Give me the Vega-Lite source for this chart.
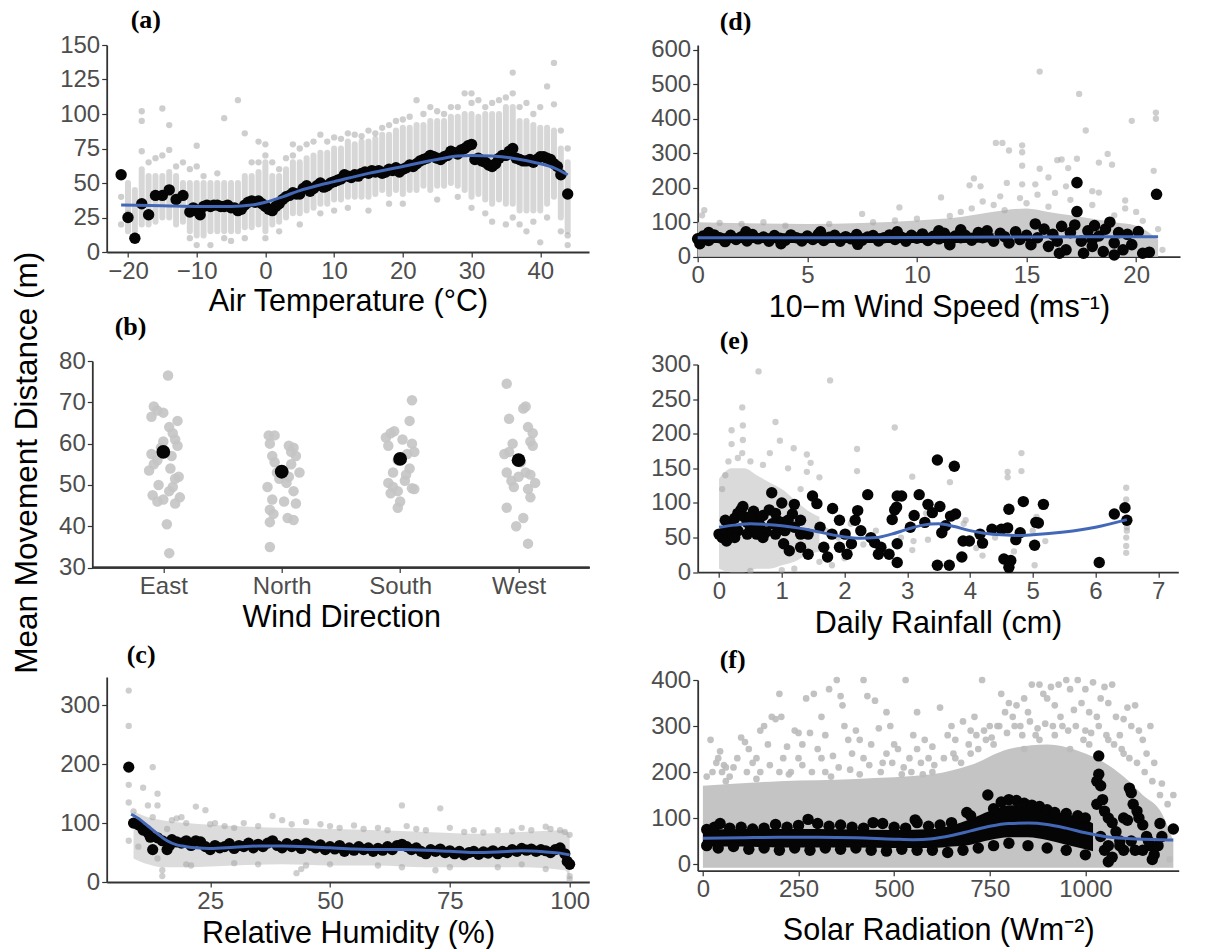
{
 "$schema": "https://vega.github.io/schema/vega-lite/v6.json",
 "autosize": "none",
 "padding": {"left": 106.7, "top": 45, "right": 1117.3, "bottom": 904},
 "background": "white",
 "title": {"text": "Mean Movement Distance (m)", "orient": "left", "anchor": "middle", "frame": "bounds", "font": "Liberation Sans", "fontWeight": "normal", "fontSize": 31.5, "offset": 15, "dx": 15, "color": "#000000"},
 "config": {
  "view": {"stroke": null},
  "font": "Liberation Sans",
  "axis": {"grid": false, "domainColor": "#333333", "domainWidth": 1.8, "tickColor": "#333333", "tickWidth": 1.2, "tickSize": 5, "labelFont": "Liberation Sans", "labelFontSize": 24, "labelColor": "#4d4d4d", "labelPadding": 2, "labelFlush": false, "labelOverlap": false, "titleFont": "Liberation Sans", "titleFontSize": 30.5, "titleFontWeight": "normal", "titleColor": "#000000"},
  "title": {"font": "Liberation Serif", "fontWeight": "bold", "fontSize": 26, "anchor": "start", "frame": "group", "color": "#000000"}
 },
 "datasets": {
  "a_core": [{"x":-20,"y":15,"y2":50},{"x":-19,"y":15,"y2":45},{"x":-18,"y":20,"y2":60},{"x":-17,"y":20,"y2":55},{"x":-16,"y":22,"y2":55},{"x":-15,"y":25,"y2":55},{"x":-14,"y":25,"y2":58},{"x":-13,"y":20,"y2":55},{"x":-12,"y":22,"y2":50},{"x":-11,"y":15,"y2":50},{"x":-10,"y":12,"y2":50},{"x":-9,"y":12,"y2":50},{"x":-8,"y":15,"y2":50},{"x":-7,"y":15,"y2":50},{"x":-6,"y":15,"y2":50},{"x":-5,"y":15,"y2":50},{"x":-4,"y":15,"y2":50},{"x":-3,"y":18,"y2":55},{"x":-2,"y":18,"y2":55},{"x":-1,"y":20,"y2":58},{"x":0,"y":15,"y2":65},{"x":1,"y":20,"y2":55},{"x":2,"y":22,"y2":55},{"x":3,"y":25,"y2":60},{"x":4,"y":28,"y2":65},{"x":5,"y":28,"y2":65},{"x":6,"y":30,"y2":68},{"x":7,"y":32,"y2":70},{"x":8,"y":35,"y2":72},{"x":9,"y":35,"y2":72},{"x":10,"y":38,"y2":75},{"x":11,"y":38,"y2":75},{"x":12,"y":40,"y2":80},{"x":13,"y":40,"y2":78},{"x":14,"y":40,"y2":80},{"x":15,"y":40,"y2":80},{"x":16,"y":42,"y2":82},{"x":17,"y":45,"y2":85},{"x":18,"y":42,"y2":85},{"x":19,"y":45,"y2":88},{"x":20,"y":42,"y2":90},{"x":21,"y":45,"y2":90},{"x":22,"y":45,"y2":92},{"x":23,"y":48,"y2":92},{"x":24,"y":45,"y2":95},{"x":25,"y":48,"y2":95},{"x":26,"y":48,"y2":95},{"x":27,"y":50,"y2":98},{"x":28,"y":48,"y2":98},{"x":29,"y":45,"y2":100},{"x":30,"y":40,"y2":100},{"x":31,"y":42,"y2":98},{"x":32,"y":38,"y2":100},{"x":33,"y":35,"y2":100},{"x":34,"y":38,"y2":100},{"x":35,"y":35,"y2":105},{"x":36,"y":35,"y2":105},{"x":37,"y":30,"y2":95},{"x":38,"y":30,"y2":95},{"x":39,"y":30,"y2":92},{"x":40,"y":30,"y2":90},{"x":41,"y":35,"y2":90},{"x":42,"y":40,"y2":88},{"x":43,"y":25,"y2":75},{"x":44,"y":15,"y2":65}],
  "a_g": [{"x":-21,"y":40},{"x":-21,"y":20},{"x":-20,"y":28},{"x":-19,"y":12},{"x":-18,"y":102},{"x":-18,"y":95},{"x":-18,"y":73},{"x":-17,"y":65},{"x":-16,"y":68},{"x":-15,"y":104},{"x":-15,"y":70},{"x":-14,"y":92},{"x":-14,"y":74},{"x":-13,"y":62},{"x":-12,"y":65},{"x":-11,"y":60},{"x":-11,"y":10},{"x":-10,"y":77},{"x":-10,"y":62},{"x":-10,"y":5},{"x":-9,"y":55},{"x":-7,"y":57},{"x":-6,"y":97},{"x":-6,"y":10},{"x":-4,"y":110},{"x":-3,"y":86},{"x":-2,"y":65},{"x":-1,"y":80},{"x":-1,"y":65},{"x":0,"y":78},{"x":0,"y":70},{"x":0,"y":10},{"x":1,"y":65},{"x":2,"y":60},{"x":3,"y":68},{"x":4,"y":78},{"x":4,"y":70},{"x":5,"y":75},{"x":6,"y":78},{"x":7,"y":80},{"x":8,"y":85},{"x":9,"y":80},{"x":10,"y":83},{"x":11,"y":82},{"x":12,"y":86},{"x":13,"y":85},{"x":14,"y":84},{"x":15,"y":88},{"x":16,"y":86},{"x":17,"y":90},{"x":18,"y":92},{"x":19,"y":95},{"x":20,"y":96},{"x":21,"y":98},{"x":22,"y":110},{"x":23,"y":100},{"x":24,"y":105},{"x":25,"y":102},{"x":26,"y":100},{"x":27,"y":105},{"x":28,"y":105},{"x":29,"y":115},{"x":30,"y":115},{"x":30,"y":108},{"x":31,"y":110},{"x":32,"y":105},{"x":33,"y":108},{"x":34,"y":110},{"x":35,"y":112},{"x":36,"y":130},{"x":36,"y":115},{"x":37,"y":105},{"x":38,"y":108},{"x":39,"y":100},{"x":40,"y":105},{"x":41,"y":120},{"x":42,"y":137},{"x":42,"y":107},{"x":43,"y":88},{"x":44,"y":75},{"x":5,"y":20},{"x":8,"y":28},{"x":10,"y":30},{"x":15,"y":30},{"x":20,"y":35},{"x":25,"y":38},{"x":30,"y":32},{"x":32,"y":28},{"x":33,"y":22},{"x":35,"y":20},{"x":36,"y":25},{"x":37,"y":20},{"x":38,"y":15},{"x":39,"y":22},{"x":40,"y":7},{"x":41,"y":25},{"x":43,"y":15},{"x":44,"y":12},{"x":44,"y":5},{"x":-5,"y":8},{"x":-8,"y":5},{"x":-3,"y":10},{"x":2,"y":15},{"x":12,"y":32},{"x":18,"y":35},{"x":28,"y":40}],
  "a_b": [{"x":-21,"y":56},{"x":-20,"y":25},{"x":-19,"y":10},{"x":-18,"y":35},{"x":-17,"y":27},{"x":-16,"y":41},{"x":-15,"y":41},{"x":-14,"y":45},{"x":-13,"y":38},{"x":-12,"y":41},{"x":-11,"y":29},{"x":-10.5,"y":32},{"x":-10,"y":30},{"x":-9.5,"y":27},{"x":-9,"y":33},{"x":-8.5,"y":34},{"x":-8,"y":33},{"x":-7.5,"y":34},{"x":-7,"y":34},{"x":-6.5,"y":33},{"x":-6,"y":33},{"x":-5.5,"y":34},{"x":-5,"y":32},{"x":-4.5,"y":32},{"x":-4,"y":30},{"x":-3.5,"y":31},{"x":-3,"y":34},{"x":-2.5,"y":36},{"x":-2,"y":37},{"x":-1.5,"y":36},{"x":-1,"y":37},{"x":-0.5,"y":35},{"x":0,"y":33},{"x":0.5,"y":31},{"x":1,"y":30},{"x":1.5,"y":33},{"x":2,"y":35},{"x":2.5,"y":38},{"x":3,"y":40},{"x":3.5,"y":41},{"x":4,"y":43},{"x":4.5,"y":42},{"x":5,"y":42},{"x":5.5,"y":46},{"x":6,"y":48},{"x":6.5,"y":44},{"x":7,"y":46},{"x":7.5,"y":48},{"x":8,"y":50},{"x":8.5,"y":47},{"x":9,"y":48},{"x":9.5,"y":50},{"x":10,"y":51},{"x":10.5,"y":52},{"x":11,"y":53},{"x":11.5,"y":56},{"x":12,"y":55},{"x":12.5,"y":54},{"x":13,"y":56},{"x":13.5,"y":55},{"x":14,"y":57},{"x":14.5,"y":58},{"x":15,"y":57},{"x":15.5,"y":59},{"x":16,"y":58},{"x":16.5,"y":59},{"x":17,"y":57},{"x":17.5,"y":58},{"x":18,"y":60},{"x":18.5,"y":59},{"x":19,"y":61},{"x":19.5,"y":58},{"x":20,"y":60},{"x":20.5,"y":61},{"x":21,"y":63},{"x":21.5,"y":62},{"x":22,"y":64},{"x":22.5,"y":66},{"x":23,"y":67},{"x":23.5,"y":68},{"x":24,"y":70},{"x":24.5,"y":69},{"x":25,"y":68},{"x":25.5,"y":67},{"x":26,"y":69},{"x":26.5,"y":70},{"x":27,"y":73},{"x":27.5,"y":72},{"x":28,"y":71},{"x":28.5,"y":74},{"x":29,"y":75},{"x":29.5,"y":77},{"x":30,"y":78},{"x":30.5,"y":67},{"x":31,"y":68},{"x":31.5,"y":66},{"x":32,"y":65},{"x":32.5,"y":63},{"x":33,"y":62},{"x":33.5,"y":64},{"x":34,"y":68},{"x":34.5,"y":70},{"x":35,"y":70},{"x":35.5,"y":73},{"x":36,"y":75},{"x":36.5,"y":68},{"x":37,"y":67},{"x":37.5,"y":66},{"x":38,"y":66},{"x":38.5,"y":67},{"x":39,"y":65},{"x":39.5,"y":67},{"x":40,"y":69},{"x":40.5,"y":69},{"x":41,"y":68},{"x":41.5,"y":67},{"x":42,"y":64},{"x":42.5,"y":62},{"x":43,"y":56},{"x":44,"y":42}],
  "a_l": [{"x":-21,"y":34},{"x":-15,"y":33.5},{"x":-10,"y":33},{"x":-5,"y":33},{"x":-2,"y":34},{"x":0,"y":36},{"x":2.5,"y":40},{"x":5,"y":44.5},{"x":7.5,"y":48},{"x":10,"y":51},{"x":15,"y":57},{"x":20,"y":62},{"x":25,"y":67},{"x":28,"y":69.5},{"x":30,"y":70},{"x":33,"y":69.5},{"x":36,"y":68},{"x":40,"y":64},{"x":42,"y":61},{"x":44,"y":56}],
  "b_g": [{"x":1.04,"y":76.5},{"x":0.92,"y":69},{"x":0.95,"y":68},{"x":1.0,"y":67.5},{"x":0.9,"y":66.5},{"x":1.12,"y":65.5},{"x":1.05,"y":64},{"x":1.08,"y":62.5},{"x":1.0,"y":60.5},{"x":1.1,"y":61},{"x":1.12,"y":59.5},{"x":0.9,"y":57.5},{"x":0.95,"y":56},{"x":0.88,"y":53.5},{"x":1.06,"y":54},{"x":0.92,"y":55},{"x":1.13,"y":52},{"x":0.96,"y":50},{"x":1.08,"y":49.5},{"x":0.91,"y":47.5},{"x":1.0,"y":46.5},{"x":1.1,"y":45.5},{"x":0.95,"y":46},{"x":1.14,"y":47},{"x":1.05,"y":48.5},{"x":1.03,"y":40.5},{"x":1.05,"y":33.5},{"x":1.1,"y":51.5},{"x":0.98,"y":59},{"x":1.07,"y":57},
   {"x":1.89,"y":62},{"x":1.94,"y":62},{"x":1.9,"y":60},{"x":2.06,"y":59.5},{"x":2.1,"y":59},{"x":2.12,"y":57},{"x":1.92,"y":57},{"x":1.94,"y":55.5},{"x":2.08,"y":55},{"x":2.15,"y":53},{"x":1.96,"y":53},{"x":2.04,"y":50.5},{"x":1.88,"y":49.5},{"x":2.1,"y":48.5},{"x":1.92,"y":46.5},{"x":2.02,"y":46},{"x":2.12,"y":45.5},{"x":1.9,"y":44},{"x":1.93,"y":43},{"x":1.9,"y":41},{"x":2.05,"y":42},{"x":2.1,"y":41.5},{"x":1.9,"y":35},{"x":2.06,"y":52},{"x":1.98,"y":51.5},{"x":2.08,"y":58},
   {"x":3.1,"y":70.5},{"x":3.08,"y":65.5},{"x":2.88,"y":61.5},{"x":2.92,"y":62.5},{"x":2.95,"y":63},{"x":3.02,"y":61},{"x":3.1,"y":60},{"x":3.12,"y":58},{"x":2.9,"y":59.5},{"x":3.06,"y":57.5},{"x":2.98,"y":56},{"x":3.08,"y":54},{"x":2.94,"y":53},{"x":3.05,"y":52.5},{"x":2.9,"y":50.5},{"x":2.94,"y":49.5},{"x":3.12,"y":49},{"x":2.98,"y":48.5},{"x":2.92,"y":48},{"x":3.0,"y":46},{"x":2.98,"y":44.5},{"x":3.1,"y":49.2},{"x":3.04,"y":51},
   {"x":3.9,"y":74.5},{"x":4.06,"y":69},{"x":4.04,"y":68.5},{"x":3.92,"y":66},{"x":4.08,"y":64},{"x":4.12,"y":62.5},{"x":4.1,"y":60.5},{"x":4.12,"y":59.5},{"x":3.95,"y":60},{"x":3.92,"y":58},{"x":3.88,"y":57.5},{"x":4.02,"y":55.5},{"x":3.9,"y":53},{"x":4.06,"y":53},{"x":4.1,"y":52.5},{"x":4.14,"y":50.5},{"x":3.96,"y":49.5},{"x":4.08,"y":49},{"x":4.1,"y":47},{"x":3.94,"y":51},{"x":3.9,"y":44.5},{"x":4.04,"y":42},{"x":3.98,"y":40},{"x":4.08,"y":35.8},{"x":4.0,"y":52}],
  "b_b": [{"x":1,"y":58},{"x":2,"y":53.2},{"x":3,"y":56.3},{"x":4,"y":56}],
  "c_band": [{"x":9,"y":40,"y2":120},{"x":12,"y":30,"y2":110},{"x":15,"y":25,"y2":105},{"x":20,"y":25,"y2":100},{"x":30,"y":28,"y2":95},{"x":40,"y":30,"y2":92},{"x":50,"y":28,"y2":90},{"x":60,"y":28,"y2":88},{"x":70,"y":25,"y2":85},{"x":80,"y":25,"y2":82},{"x":90,"y":25,"y2":85},{"x":99,"y":20,"y2":88},{"x":100,"y":5,"y2":80}],
  "c_g": [{"x":8,"y":325},{"x":8,"y":265},{"x":8,"y":165},{"x":8,"y":135},{"x":8,"y":70},{"x":9,"y":120},{"x":10,"y":105},{"x":10,"y":60},{"x":11,"y":160},{"x":12,"y":130},{"x":13,"y":195},{"x":13,"y":110},{"x":14,"y":150},{"x":14,"y":130},{"x":14,"y":40},{"x":15,"y":10},{"x":15,"y":20},{"x":16,"y":90},{"x":17,"y":105},{"x":18,"y":108},{"x":19,"y":110},{"x":20,"y":100},{"x":21,"y":28},{"x":22,"y":128},{"x":24,"y":122},{"x":25,"y":98},{"x":26,"y":100},{"x":28,"y":95},{"x":30,"y":92},{"x":32,"y":100},{"x":35,"y":95},{"x":38,"y":112},{"x":40,"y":105},{"x":42,"y":98},{"x":43,"y":15},{"x":44,"y":22},{"x":45,"y":102},{"x":48,"y":98},{"x":50,"y":95},{"x":52,"y":92},{"x":55,"y":96},{"x":57,"y":90},{"x":60,"y":92},{"x":62,"y":88},{"x":65,"y":130},{"x":66,"y":95},{"x":68,"y":90},{"x":70,"y":88},{"x":72,"y":20},{"x":73,"y":125},{"x":75,"y":92},{"x":78,"y":85},{"x":80,"y":88},{"x":82,"y":84},{"x":85,"y":88},{"x":88,"y":86},{"x":90,"y":92},{"x":92,"y":88},{"x":95,"y":94},{"x":96,"y":90},{"x":98,"y":88},{"x":99,"y":85},{"x":100,"y":80},{"x":100,"y":10},{"x":100,"y":5},{"x":35,"y":30},{"x":50,"y":30},{"x":60,"y":28},{"x":75,"y":25},{"x":85,"y":25},{"x":95,"y":22},{"x":20,"y":30},{"x":30,"y":32},{"x":45,"y":28},{"x":65,"y":25},{"x":90,"y":30}],
  "c_b": [{"x":8,"y":195},{"x":9,"y":100},{"x":10,"y":97},{"x":11,"y":88},{"x":12,"y":84},{"x":12.5,"y":76},{"x":13,"y":55},{"x":14,"y":75},{"x":15,"y":70},{"x":16,"y":55},{"x":16.5,"y":62},{"x":17,"y":72},{"x":18,"y":68},{"x":19,"y":66},{"x":20,"y":70},{"x":21,"y":62},{"x":22,"y":70},{"x":23,"y":68},{"x":24,"y":60},{"x":25,"y":55},{"x":26,"y":62},{"x":27,"y":58},{"x":28,"y":60},{"x":29,"y":65},{"x":30,"y":57},{"x":31,"y":62},{"x":32,"y":60},{"x":33,"y":66},{"x":34,"y":58},{"x":35,"y":64},{"x":36,"y":60},{"x":37,"y":66},{"x":38,"y":70},{"x":39,"y":62},{"x":40,"y":58},{"x":41,"y":65},{"x":42,"y":60},{"x":43,"y":64},{"x":44,"y":57},{"x":45,"y":66},{"x":46,"y":62},{"x":47,"y":58},{"x":48,"y":63},{"x":49,"y":55},{"x":50,"y":60},{"x":51,"y":56},{"x":52,"y":62},{"x":53,"y":52},{"x":54,"y":58},{"x":55,"y":54},{"x":56,"y":60},{"x":57,"y":55},{"x":58,"y":58},{"x":59,"y":52},{"x":60,"y":57},{"x":61,"y":54},{"x":62,"y":60},{"x":63,"y":55},{"x":64,"y":62},{"x":65,"y":64},{"x":66,"y":60},{"x":67,"y":55},{"x":68,"y":58},{"x":69,"y":52},{"x":70,"y":48},{"x":71,"y":55},{"x":72,"y":52},{"x":73,"y":56},{"x":74,"y":50},{"x":75,"y":53},{"x":76,"y":48},{"x":77,"y":52},{"x":78,"y":46},{"x":79,"y":50},{"x":80,"y":52},{"x":81,"y":47},{"x":82,"y":51},{"x":83,"y":49},{"x":84,"y":53},{"x":85,"y":48},{"x":86,"y":52},{"x":87,"y":50},{"x":88,"y":55},{"x":89,"y":52},{"x":90,"y":57},{"x":91,"y":54},{"x":92,"y":56},{"x":93,"y":52},{"x":94,"y":55},{"x":95,"y":53},{"x":96,"y":50},{"x":97,"y":55},{"x":98,"y":58},{"x":99,"y":48},{"x":99.5,"y":35},{"x":100,"y":30}],
  "c_l": [{"x":8.5,"y":115},{"x":10,"y":108},{"x":12,"y":95},{"x":14,"y":82},{"x":16,"y":70},{"x":18,"y":63},{"x":20,"y":60},{"x":22,"y":58},{"x":25,"y":57},{"x":30,"y":59},{"x":35,"y":61},{"x":40,"y":61},{"x":45,"y":60},{"x":50,"y":58},{"x":55,"y":56},{"x":60,"y":55},{"x":65,"y":55},{"x":70,"y":54},{"x":75,"y":52},{"x":80,"y":50},{"x":85,"y":51},{"x":90,"y":53},{"x":95,"y":51},{"x":98,"y":49},{"x":100,"y":46}],
  "d_band": [{"x":0,"y":0,"y2":100},{"x":5,"y":0,"y2":95},{"x":10,"y":0,"y2":105},{"x":12,"y":0,"y2":115},{"x":13,"y":0,"y2":125},{"x":14,"y":0,"y2":135},{"x":15,"y":0,"y2":140},{"x":16,"y":0,"y2":130},{"x":17,"y":0,"y2":120},{"x":18,"y":0,"y2":110},{"x":19,"y":0,"y2":100},{"x":20,"y":0,"y2":90},{"x":21,"y":0,"y2":50}],
  "d_bband": [{"x":0,"y":40,"y2":68},{"x":4,"y":40,"y2":68},{"x":8,"y":40,"y2":68},{"x":12,"y":40,"y2":70},{"x":13.5,"y":42,"y2":68}],
  "d_g": [{"x":15.6,"y":537},{"x":17.4,"y":472},{"x":20.9,"y":418},{"x":20.9,"y":400},{"x":19.8,"y":394},{"x":17.7,"y":366},{"x":13.6,"y":330},{"x":13.9,"y":330},{"x":14.8,"y":323},{"x":14.2,"y":308},{"x":14.8,"y":303},{"x":14.8,"y":264},{"x":15.6,"y":255},{"x":16.4,"y":280},{"x":16.6,"y":282},{"x":17.3,"y":284},{"x":18.7,"y":298},{"x":18.9,"y":267},{"x":18.3,"y":273},{"x":16.9,"y":257},{"x":20.8,"y":249},{"x":12.6,"y":227},{"x":12.4,"y":207},{"x":12.9,"y":204},{"x":14.1,"y":214},{"x":14.8,"y":210},{"x":15.4,"y":210},{"x":16.0,"y":230},{"x":16.8,"y":204},{"x":18.0,"y":190},{"x":18.3,"y":186},{"x":11.1,"y":172},{"x":9.2,"y":143},{"x":7.5,"y":124},{"x":19.5,"y":163},{"x":19.5,"y":140},{"x":20.3,"y":104},{"x":13.8,"y":175},{"x":14.7,"y":170},{"x":16.3,"y":185},{"x":12.0,"y":130},{"x":12.5,"y":140},{"x":13.0,"y":160},{"x":13.5,"y":150},{"x":14,"y":135},{"x":15,"y":155},{"x":15.5,"y":180},{"x":16,"y":145},{"x":17,"y":165},{"x":18,"y":150},{"x":19,"y":120},{"x":20,"y":130},{"x":0.3,"y":135},{"x":0.2,"y":120},{"x":3,"y":100},{"x":2,"y":95},{"x":4,"y":90},{"x":8,"y":100},{"x":1,"y":98},{"x":6,"y":95},{"x":10,"y":110},{"x":11.5,"y":118},{"x":9,"y":105},{"x":21,"y":80},{"x":21.2,"y":20}],
  "d_b": [{"x":0,"y":52},{"x":0.25,"y":60},{"x":0.5,"y":47},{"x":0.75,"y":63},{"x":1,"y":55},{"x":1.25,"y":44},{"x":1.5,"y":62},{"x":1.75,"y":50},{"x":2,"y":58},{"x":2.25,"y":46},{"x":2.5,"y":64},{"x":2.75,"y":52},{"x":3,"y":57},{"x":3.25,"y":45},{"x":3.5,"y":61},{"x":3.75,"y":53},{"x":4,"y":48},{"x":4.25,"y":63},{"x":4.5,"y":55},{"x":4.75,"y":46},{"x":5,"y":60},{"x":5.25,"y":50},{"x":5.5,"y":65},{"x":5.75,"y":47},{"x":6,"y":56},{"x":6.25,"y":62},{"x":6.5,"y":45},{"x":6.75,"y":58},{"x":7,"y":52},{"x":7.25,"y":64},{"x":7.5,"y":48},{"x":7.75,"y":57},{"x":8,"y":61},{"x":8.25,"y":46},{"x":8.5,"y":55},{"x":8.75,"y":63},{"x":9,"y":50},{"x":9.25,"y":58},{"x":9.5,"y":45},{"x":9.75,"y":62},{"x":10,"y":54},{"x":10.25,"y":66},{"x":10.5,"y":47},{"x":10.75,"y":59},{"x":11,"y":52},{"x":11.25,"y":68},{"x":11.5,"y":44},{"x":11.75,"y":60},{"x":12,"y":55},{"x":0.1,"y":38},{"x":0.5,"y":70},{"x":2.2,"y":72},{"x":3.8,"y":38},{"x":5.6,"y":72},{"x":7.3,"y":36},{"x":9.1,"y":72},{"x":11,"y":75},{"x":11.5,"y":35},{"x":12,"y":78},{"x":12.2,"y":62},{"x":12.5,"y":48},{"x":12.8,"y":70},{"x":13.0,"y":55},{"x":13.2,"y":75},{"x":13.5,"y":45},{"x":13.8,"y":68},{"x":14.0,"y":58},{"x":14.2,"y":40},{"x":14.5,"y":72},{"x":14.7,"y":50},{"x":15.0,"y":62},{"x":15.2,"y":35},{"x":15.4,"y":95},{"x":15.5,"y":55},{"x":15.8,"y":80},{"x":16.0,"y":30},{"x":16.2,"y":65},{"x":16.4,"y":45},{"x":16.6,"y":88},{"x":16.8,"y":20},{"x":17.0,"y":70},{"x":17.2,"y":92},{"x":17.3,"y":131},{"x":17.3,"y":215},{"x":17.5,"y":45},{"x":17.6,"y":10},{"x":17.8,"y":75},{"x":18.0,"y":30},{"x":18.1,"y":90},{"x":18.3,"y":60},{"x":18.5,"y":15},{"x":18.6,"y":80},{"x":18.8,"y":100},{"x":19.0,"y":40},{"x":19.2,"y":70},{"x":19.4,"y":20},{"x":19.6,"y":65},{"x":19.8,"y":35},{"x":20.1,"y":73},{"x":20.3,"y":10},{"x":20.6,"y":13},{"x":20.93,"y":181},{"x":19.0,"y":5},{"x":18.0,"y":50},{"x":16.5,"y":10}],
  "d_l": [{"x":0,"y":55},{"x":5,"y":55},{"x":10,"y":56},{"x":15,"y":57},{"x":21,"y":58}],
  "e_band": [{"x":0,"y":5,"y2":135},{"x":0.2,"y":0,"y2":150},{"x":0.4,"y":0,"y2":150},{"x":0.6,"y":5,"y2":140},{"x":0.8,"y":5,"y2":130},{"x":1.0,"y":10,"y2":120},{"x":1.2,"y":15,"y2":105},{"x":1.4,"y":25,"y2":90},{"x":1.6,"y":30,"y2":80}],
  "e_g": [{"x":0.63,"y":290},{"x":1.77,"y":277},{"x":0.37,"y":238},{"x":0.2,"y":205},{"x":0.9,"y":217},{"x":0.38,"y":212},{"x":0.38,"y":191},{"x":0.97,"y":190},{"x":0.2,"y":185},{"x":0.37,"y":172},{"x":0.81,"y":172},{"x":1.19,"y":179},{"x":1.4,"y":170},{"x":1.46,"y":158},{"x":2.8,"y":209},{"x":2.2,"y":178},{"x":2.2,"y":146},{"x":3.08,"y":138},{"x":3.68,"y":130},{"x":4.82,"y":172},{"x":4.82,"y":146},{"x":4.6,"y":145},{"x":4.6,"y":137},{"x":6.49,"y":122},{"x":6.49,"y":105},{"x":6.49,"y":50},{"x":6.49,"y":38},{"x":6.49,"y":28},{"x":5.03,"y":10},{"x":5.06,"y":80},{"x":3.08,"y":32},{"x":3.33,"y":47},{"x":4.2,"y":24},{"x":3.93,"y":75},{"x":1.4,"y":145},{"x":1.6,"y":137},{"x":0.15,"y":160},{"x":0.5,"y":160},{"x":0.7,"y":155},{"x":1.1,"y":150},{"x":0.3,"y":165},{"x":0.1,"y":140},{"x":0.05,"y":120},{"x":1.3,"y":120},{"x":1.5,"y":110},{"x":1.7,"y":60},{"x":1.9,"y":50},{"x":2.1,"y":70},{"x":2.3,"y":40},{"x":2.5,"y":60},{"x":2.6,"y":30},{"x":2.9,"y":50},{"x":3.1,"y":45},{"x":3.3,"y":85},{"x":3.6,"y":60},{"x":3.9,"y":70},{"x":4.1,"y":35},{"x":4.4,"y":50},{"x":4.7,"y":30},{"x":5.0,"y":60},{"x":5.2,"y":45},{"x":6.5,"y":60},{"x":6.5,"y":65},{"x":1.2,"y":5},{"x":1.0,"y":3},{"x":0.5,"y":2},{"x":1.6,"y":15},{"x":1.8,"y":10},{"x":2.0,"y":20}],
  "e_b": [{"x":0.84,"y":114.7},{"x":1.0,"y":100},{"x":1.2,"y":98},{"x":1.49,"y":110},{"x":1.56,"y":99},{"x":1.81,"y":92},{"x":2.37,"y":112},{"x":2.21,"y":89},{"x":2.84,"y":110},{"x":2.91,"y":110},{"x":2.83,"y":94},{"x":3.19,"y":112},{"x":3.33,"y":98},{"x":3.48,"y":162},{"x":3.75,"y":153},{"x":3.52,"y":95},{"x":3.77,"y":84},{"x":4.62,"y":91},{"x":4.85,"y":102},{"x":5.17,"y":98},{"x":5.09,"y":71},{"x":5.03,"y":39},{"x":6.3,"y":84},{"x":6.47,"y":93},{"x":6.5,"y":75},{"x":6.06,"y":14},{"x":3.87,"y":22},{"x":4.2,"y":42},{"x":3.89,"y":45},{"x":3.99,"y":45},{"x":4.54,"y":19},{"x":4.65,"y":17},{"x":4.62,"y":7},{"x":3.48,"y":10},{"x":3.67,"y":10},{"x":2.84,"y":14},{"x":2.71,"y":26},{"x":2.84,"y":41},{"x":2.76,"y":76},{"x":2.8,"y":90},{"x":3.05,"y":65},{"x":3.11,"y":82},{"x":3.28,"y":72},{"x":3.4,"y":86},{"x":3.55,"y":57},{"x":3.61,"y":67},{"x":3.69,"y":81},{"x":4.16,"y":55},{"x":4.35,"y":62},{"x":4.5,"y":62},{"x":4.6,"y":64},{"x":4.8,"y":57},{"x":4.73,"y":47},{"x":5.05,"y":72},{"x":2.04,"y":26},{"x":1.92,"y":36},{"x":1.73,"y":22},{"x":1.67,"y":36},{"x":1.42,"y":26},{"x":1.3,"y":36},{"x":1.12,"y":31},{"x":1.03,"y":41},{"x":1.92,"y":75},{"x":2.01,"y":55},{"x":2.17,"y":75},{"x":2.26,"y":60},{"x":2.42,"y":50},{"x":2.48,"y":43},{"x":2.58,"y":36},{"x":2.54,"y":26},{"x":2.11,"y":41},{"x":1.8,"y":55},{"x":1.61,"y":65},{"x":1.42,"y":55},{"x":1.3,"y":75},{"x":1.17,"y":84},{"x":0.92,"y":75},{"x":0,"y":55},{"x":0.05,"y":50},{"x":0.1,"y":60},{"x":0.12,"y":45},{"x":0.15,"y":70},{"x":0.2,"y":65},{"x":0.25,"y":78},{"x":0.3,"y":85},{"x":0.35,"y":90},{"x":0.38,"y":95},{"x":0.4,"y":80},{"x":0.45,"y":72},{"x":0.5,"y":62},{"x":0.55,"y":88},{"x":0.6,"y":75},{"x":0.65,"y":68},{"x":0.7,"y":82},{"x":0.75,"y":58},{"x":0.8,"y":90},{"x":0.85,"y":70},{"x":0.9,"y":85},{"x":0.95,"y":65},{"x":1.0,"y":72},{"x":0.2,"y":55},{"x":0.3,"y":60},{"x":0.45,"y":55},{"x":0.6,"y":55},{"x":0.7,"y":50},{"x":0.9,"y":55},{"x":0.1,"y":75},{"x":0.25,"y":50},{"x":0.5,"y":80},{"x":1.1,"y":75},{"x":1.2,"y":65},{"x":1.3,"y":55},{"x":1.05,"y":60}],
  "e_l": [{"x":0,"y":65},{"x":0.25,"y":68},{"x":0.5,"y":70},{"x":0.75,"y":69},{"x":1,"y":67},{"x":1.25,"y":64},{"x":1.5,"y":60},{"x":1.75,"y":55},{"x":2,"y":51},{"x":2.25,"y":49},{"x":2.5,"y":50},{"x":2.75,"y":55},{"x":3,"y":62},{"x":3.25,"y":68},{"x":3.5,"y":70},{"x":3.75,"y":66},{"x":4,"y":60},{"x":4.25,"y":56},{"x":4.5,"y":54},{"x":4.75,"y":53},{"x":5,"y":54},{"x":5.5,"y":58},{"x":6,"y":65},{"x":6.5,"y":76}],
  "f_band": [{"x":0,"y":-8,"y2":170},{"x":200,"y":-8,"y2":180},{"x":400,"y":-8,"y2":185},{"x":600,"y":-8,"y2":195},{"x":700,"y":-8,"y2":215},{"x":800,"y":-8,"y2":250},{"x":900,"y":-8,"y2":260},{"x":1000,"y":-8,"y2":240},{"x":1050,"y":-8,"y2":220},{"x":1100,"y":-8,"y2":190},{"x":1150,"y":-8,"y2":150},{"x":1200,"y":-8,"y2":110},{"x":1230,"y":-8,"y2":50}],
  "f_g": [{"x":20,"y":270},{"x":35,"y":220},{"x":40,"y":230},{"x":45,"y":245},{"x":50,"y":200},{"x":55,"y":215},{"x":60,"y":180},{"x":70,"y":190},{"x":80,"y":210},{"x":100,"y":275},{"x":110,"y":265},{"x":120,"y":250},{"x":130,"y":220},{"x":140,"y":230},{"x":150,"y":290},{"x":160,"y":300},{"x":170,"y":260},{"x":180,"y":320},{"x":190,"y":315},{"x":200,"y":370},{"x":205,"y":320},{"x":210,"y":230},{"x":220,"y":255},{"x":230,"y":200},{"x":240,"y":290},{"x":250,"y":285},{"x":260,"y":260},{"x":270,"y":360},{"x":280,"y":285},{"x":290,"y":370},{"x":300,"y":250},{"x":310,"y":320},{"x":320,"y":200},{"x":330,"y":380},{"x":340,"y":235},{"x":350,"y":400},{"x":360,"y":365},{"x":365,"y":345},{"x":370,"y":300},{"x":380,"y":270},{"x":390,"y":240},{"x":400,"y":290},{"x":410,"y":270},{"x":420,"y":400},{"x":430,"y":365},{"x":440,"y":260},{"x":450,"y":355},{"x":460,"y":295},{"x":470,"y":220},{"x":480,"y":240},{"x":490,"y":300},{"x":500,"y":260},{"x":510,"y":250},{"x":520,"y":195},{"x":530,"y":400},{"x":540,"y":230},{"x":550,"y":280},{"x":560,"y":250},{"x":570,"y":220},{"x":580,"y":270},{"x":590,"y":230},{"x":600,"y":255},{"x":620,"y":340},{"x":640,"y":280},{"x":650,"y":300},{"x":660,"y":270},{"x":680,"y":310},{"x":700,"y":290},{"x":710,"y":320},{"x":720,"y":250},{"x":730,"y":400},{"x":740,"y":270},{"x":750,"y":300},{"x":760,"y":260},{"x":770,"y":300},{"x":780,"y":370},{"x":790,"y":330},{"x":800,"y":350},{"x":810,"y":320},{"x":820,"y":345},{"x":830,"y":300},{"x":840,"y":360},{"x":850,"y":330},{"x":860,"y":390},{"x":870,"y":280},{"x":880,"y":390},{"x":890,"y":370},{"x":900,"y":360},{"x":910,"y":385},{"x":920,"y":345},{"x":930,"y":390},{"x":940,"y":300},{"x":950,"y":400},{"x":960,"y":380},{"x":970,"y":335},{"x":980,"y":400},{"x":990,"y":350},{"x":1000,"y":380},{"x":1010,"y":330},{"x":1020,"y":395},{"x":1030,"y":320},{"x":1040,"y":360},{"x":1050,"y":385},{"x":1060,"y":350},{"x":1070,"y":390},{"x":1080,"y":320},{"x":1090,"y":280},{"x":1100,"y":315},{"x":1110,"y":340},{"x":1120,"y":300},{"x":1130,"y":345},{"x":1140,"y":290},{"x":1150,"y":270},{"x":1160,"y":240},{"x":1170,"y":300},{"x":1180,"y":220},{"x":1200,"y":175},{"x":1230,"y":150},{"x":1220,"y":10},{"x":880,"y":270},{"x":960,"y":250},{"x":1010,"y":260},{"x":600,"y":200},{"x":660,"y":230},{"x":150,"y":200},{"x":250,"y":230},{"x":320,"y":280},{"x":420,"y":230},{"x":480,"y":330},{"x":560,"y":330},{"x":700,"y":240},{"x":840,"y":250},{"x":920,"y":280},{"x":1000,"y":290},{"x":1100,"y":240},{"x":1060,"y":270},{"x":10,"y":190},{"x":25,"y":200},{"x":60,"y":210},{"x":90,"y":230},{"x":115,"y":200},{"x":140,"y":185},{"x":175,"y":215},{"x":200,"y":200},{"x":225,"y":195},{"x":260,"y":215},{"x":285,"y":200},{"x":310,"y":230},{"x":335,"y":190},{"x":355,"y":210},{"x":385,"y":205},{"x":410,"y":195},{"x":435,"y":215},{"x":465,"y":200},{"x":495,"y":220},{"x":525,"y":210},{"x":545,"y":200},{"x":575,"y":195},{"x":605,"y":215},{"x":630,"y":230},{"x":655,"y":240},{"x":675,"y":220},{"x":695,"y":260},{"x":715,"y":280},{"x":735,"y":290},{"x":755,"y":275},{"x":775,"y":300},{"x":795,"y":285},{"x":815,"y":300},{"x":835,"y":280},{"x":855,"y":310},{"x":875,"y":295},{"x":895,"y":305},{"x":915,"y":300},{"x":935,"y":320},{"x":955,"y":290},{"x":975,"y":300},{"x":995,"y":270},{"x":1015,"y":285},{"x":1035,"y":300},{"x":1055,"y":280},{"x":1075,"y":260},{"x":1095,"y":250},{"x":1115,"y":230},{"x":1135,"y":220},{"x":1155,"y":200},{"x":1175,"y":180},{"x":1195,"y":150},{"x":1215,"y":130}],
  "f_bband": [{"x":0,"y":38,"y2":75},{"x":100,"y":38,"y2":76},{"x":200,"y":36,"y2":76},{"x":300,"y":36,"y2":76},{"x":400,"y":36,"y2":75},{"x":500,"y":35,"y2":74},{"x":600,"y":35,"y2":76},{"x":650,"y":38,"y2":84},{"x":700,"y":42,"y2":98},{"x":750,"y":52,"y2":115},{"x":800,"y":58,"y2":128},{"x":850,"y":58,"y2":128},{"x":900,"y":52,"y2":118},{"x":950,"y":42,"y2":108},{"x":1000,"y":32,"y2":98},{"x":1020,"y":28,"y2":88}],
  "f_b": [{"x":10,"y":75},{"x":30,"y":80},{"x":45,"y":88},{"x":70,"y":78},{"x":100,"y":80},{"x":130,"y":76},{"x":160,"y":78},{"x":190,"y":86},{"x":220,"y":80},{"x":250,"y":84},{"x":275,"y":97},{"x":300,"y":88},{"x":330,"y":82},{"x":360,"y":85},{"x":390,"y":80},{"x":420,"y":78},{"x":445,"y":90},{"x":470,"y":88},{"x":500,"y":80},{"x":530,"y":78},{"x":555,"y":96},{"x":560,"y":90},{"x":590,"y":82},{"x":620,"y":85},{"x":650,"y":90},{"x":690,"y":112},{"x":700,"y":105},{"x":745,"y":150},{"x":760,"y":120},{"x":780,"y":135},{"x":800,"y":140},{"x":820,"y":138},{"x":840,"y":132},{"x":860,"y":128},{"x":880,"y":125},{"x":900,"y":118},{"x":920,"y":112},{"x":950,"y":110},{"x":980,"y":105},{"x":1000,"y":100},{"x":10,"y":40},{"x":40,"y":35},{"x":80,"y":38},{"x":120,"y":32},{"x":160,"y":35},{"x":200,"y":30},{"x":240,"y":35},{"x":280,"y":30},{"x":320,"y":35},{"x":360,"y":32},{"x":400,"y":35},{"x":440,"y":30},{"x":480,"y":28},{"x":520,"y":32},{"x":560,"y":30},{"x":600,"y":30},{"x":640,"y":25},{"x":680,"y":30},{"x":720,"y":35},{"x":760,"y":40},{"x":800,"y":45},{"x":850,"y":40},{"x":900,"y":35},{"x":950,"y":30},{"x":1000,"y":20},{"x":1035,"y":235},{"x":1035,"y":195},{"x":1030,"y":180},{"x":1040,"y":170},{"x":1045,"y":140},{"x":1030,"y":130},{"x":1050,"y":115},{"x":1060,"y":100},{"x":1070,"y":90},{"x":1080,"y":70},{"x":1090,"y":50},{"x":1100,"y":100},{"x":1110,"y":95},{"x":1115,"y":165},{"x":1120,"y":155},{"x":1125,"y":130},{"x":1135,"y":115},{"x":1140,"y":100},{"x":1150,"y":85},{"x":1160,"y":60},{"x":1170,"y":40},{"x":1180,"y":20},{"x":1175,"y":10},{"x":1195,"y":88},{"x":1200,"y":60},{"x":1230,"y":76},{"x":1060,"y":5},{"x":1070,"y":15},{"x":1050,"y":30},{"x":1090,"y":40},{"x":1130,"y":30},{"x":1165,"y":50},{"x":1040,"y":60},{"x":1060,"y":40},{"x":1100,"y":30},{"x":1120,"y":50},{"x":1150,"y":30},{"x":1190,"y":40}],
  "f_l": [{"x":0,"y":56},{"x":100,"y":57},{"x":200,"y":58},{"x":300,"y":58},{"x":400,"y":57},{"x":500,"y":54},{"x":550,"y":53},{"x":600,"y":55},{"x":650,"y":62},{"x":700,"y":72},{"x":750,"y":82},{"x":800,"y":88},{"x":850,"y":89},{"x":900,"y":86},{"x":950,"y":78},{"x":1000,"y":68},{"x":1050,"y":60},{"x":1100,"y":56},{"x":1150,"y":54},{"x":1200,"y":53},{"x":1230,"y":52}]
 },
 "spacing": 59,
 "hconcat": [
  {
   "spacing": 109,
   "bounds": "flush",
   "vconcat": [
    {
     "width": 482.3, "height": 207,
     "title": {"text": "(a)", "dx": 24, "offset": 0},
     "encoding": {
      "x": {"field": "x", "type": "quantitative", "scale": {"domain": [-23.1, 47.1], "nice": false, "zero": false}, "axis": {"values": [-20, -10, 0, 10, 20, 30, 40], "title": "Air Temperature (°C)", "titlePadding": 3}},
      "y": {"field": "y", "type": "quantitative", "scale": {"domain": [0, 150], "nice": false}, "axis": {"values": [0, 25, 50, 75, 100, 125, 150], "title": null}}
     },
     "layer": [
      {"data": {"name": "a_core"}, "mark": {"type": "rule", "color": "#a6a6a6", "opacity": 0.45, "strokeWidth": 6, "strokeCap": "round"}, "encoding": {"y2": {"field": "y2"}}},
      {"data": {"name": "a_g"}, "mark": {"type": "circle", "size": 40, "color": "#a6a6a6", "opacity": 0.55}},
      {"data": {"name": "a_b"}, "mark": {"type": "circle", "size": 130, "color": "#050505", "opacity": 1}},
      {"data": {"name": "a_l"}, "mark": {"type": "line", "color": "#4468B8", "strokeWidth": 3, "interpolate": "monotone"}}
     ]
    },
    {
     "width": 482.9, "height": 206.6,
     "title": {"text": "(b)", "dx": 8, "offset": 9},
     "encoding": {
      "x": {"field": "x", "type": "quantitative", "scale": {"domain": [0.522, 4.6], "nice": false, "zero": false}, "axis": {"values": [1, 2, 3, 4], "labelExpr": "['','East','North','South','West'][datum.value]", "domain": false, "title": "Wind Direction", "titlePadding": 4, "titleX": 234.5}},
      "y": {"field": "y", "type": "quantitative", "scale": {"domain": [30, 80], "nice": false, "zero": false}, "axis": {"values": [30, 40, 50, 60, 70, 80], "offset": 14.4, "title": null}}
     },
     "layer": [
      {"data": {"name": "b_g"}, "mark": {"type": "circle", "size": 110, "color": "#c4c4c4", "opacity": 0.9}},
      {"data": {"name": "b_b"}, "mark": {"type": "circle", "size": 190, "color": "#050505", "opacity": 1}},
      {"data": {"name": "b_b"}, "mark": {"type": "rule", "color": "#333333", "strokeWidth": 1.8},
       "encoding": {"x": {"datum": 0.4}, "x2": {"datum": 4.6}, "y": {"datum": 30}}}
     ]
    },
    {
     "width": 482.6, "height": 205,
     "title": {"text": "(c)", "dx": 20, "offset": 9},
     "encoding": {
      "x": {"field": "x", "type": "quantitative", "scale": {"domain": [3.4, 104.1], "nice": false, "zero": false}, "axis": {"values": [25, 50, 75, 100], "title": "Relative Humidity (%)", "titlePadding": 5}},
      "y": {"field": "y", "type": "quantitative", "scale": {"domain": [0, 348], "nice": false}, "axis": {"values": [0, 100, 200, 300], "title": null}}
     },
     "layer": [
      {"data": {"name": "c_band"}, "mark": {"type": "area", "color": "#d6d6d6", "opacity": 0.85, "interpolate": "monotone"}, "encoding": {"y2": {"field": "y2"}}},
      {"data": {"name": "c_g"}, "mark": {"type": "circle", "size": 40, "color": "#a6a6a6", "opacity": 0.55}},
      {"data": {"name": "c_b"}, "mark": {"type": "circle", "size": 125, "color": "#050505", "opacity": 1}},
      {"data": {"name": "c_l"}, "mark": {"type": "line", "color": "#4468B8", "strokeWidth": 3, "interpolate": "monotone"}}
     ]
    }
   ]
  },
  {
   "spacing": 107.5,
   "bounds": "flush",
   "vconcat": [
    {
     "width": 482.3, "height": 211.7,
     "title": {"text": "(d)", "dx": 22, "offset": 3},
     "encoding": {
      "x": {"field": "x", "type": "quantitative", "scale": {"domain": [0, 22], "nice": false, "zero": false}, "axis": {"values": [0, 5, 10, 15, 20], "title": "10−m Wind Speed (ms⁻¹)", "titlePadding": 5}},
      "y": {"field": "y", "type": "quantitative", "scale": {"domain": [0, 614], "nice": false}, "axis": {"values": [0, 100, 200, 300, 400, 500, 600], "title": null}}
     },
     "layer": [
      {"data": {"name": "d_band"}, "mark": {"type": "area", "color": "#cbcbcb", "opacity": 1, "interpolate": "monotone"}, "encoding": {"y2": {"field": "y2"}}},
      {"data": {"name": "d_g"}, "mark": {"type": "circle", "size": 40, "color": "#a6a6a6", "opacity": 0.55}},
      {"data": {"name": "d_bband"}, "mark": {"type": "area", "color": "#050505", "interpolate": "monotone"}, "encoding": {"y2": {"field": "y2"}}},
      {"data": {"name": "d_b"}, "mark": {"type": "circle", "size": 135, "color": "#050505", "opacity": 1}},
      {"data": {"name": "d_l"}, "mark": {"type": "line", "color": "#4468B8", "strokeWidth": 3, "interpolate": "monotone"}}
     ]
    },
    {
     "width": 480.6, "height": 207.7,
     "title": {"text": "(e)", "dx": 22, "offset": -1},
     "encoding": {
      "x": {"field": "x", "type": "quantitative", "scale": {"domain": [-0.34, 7.32], "nice": false, "zero": false}, "axis": {"values": [0, 1, 2, 3, 4, 5, 6, 7], "format": "d", "title": "Daily Rainfall (cm)", "titlePadding": 5}},
      "y": {"field": "y", "type": "quantitative", "scale": {"domain": [0, 300], "nice": false}, "axis": {"values": [0, 50, 100, 150, 200, 250, 300], "title": null}}
     },
     "layer": [
      {"data": {"name": "e_band"}, "mark": {"type": "area", "color": "#d4d4d4", "opacity": 0.85, "interpolate": "monotone"}, "encoding": {"y2": {"field": "y2"}}},
      {"data": {"name": "e_g"}, "mark": {"type": "circle", "size": 40, "color": "#a6a6a6", "opacity": 0.55}},
      {"data": {"name": "e_b"}, "mark": {"type": "circle", "size": 130, "color": "#050505", "opacity": 1}},
      {"data": {"name": "e_l"}, "mark": {"type": "line", "color": "#4468B8", "strokeWidth": 3, "interpolate": "monotone"}}
     ]
    },
    {
     "width": 481, "height": 190.7,
     "title": {"text": "(f)", "dx": 22, "offset": -5},
     "encoding": {
      "x": {"field": "x", "type": "quantitative", "scale": {"domain": [-13.6, 1244], "nice": false, "zero": false}, "axis": {"values": [0, 250, 500, 750, 1000, 1250], "format": "d", "title": "Solar Radiation (Wm⁻²)", "titlePadding": 14}},
      "y": {"field": "y", "type": "quantitative", "scale": {"domain": [-14.5, 400], "nice": false, "zero": false}, "axis": {"values": [0, 100, 200, 300, 400], "title": null}}
     },
     "layer": [
      {"data": {"name": "f_band"}, "mark": {"type": "area", "color": "#c4c4c4", "opacity": 1, "interpolate": "monotone"}, "encoding": {"y2": {"field": "y2"}}},
      {"data": {"name": "f_g"}, "mark": {"type": "circle", "size": 45, "color": "#bbbbbb", "opacity": 0.9}},
      {"data": {"name": "f_bband"}, "mark": {"type": "area", "color": "#050505", "interpolate": "monotone"}, "encoding": {"y2": {"field": "y2"}}},
      {"data": {"name": "f_b"}, "mark": {"type": "circle", "size": 130, "color": "#050505", "opacity": 1}},
      {"data": {"name": "f_l"}, "mark": {"type": "line", "color": "#4468B8", "strokeWidth": 3, "interpolate": "monotone"}}
     ]
    }
   ]
  }
 ]
}
